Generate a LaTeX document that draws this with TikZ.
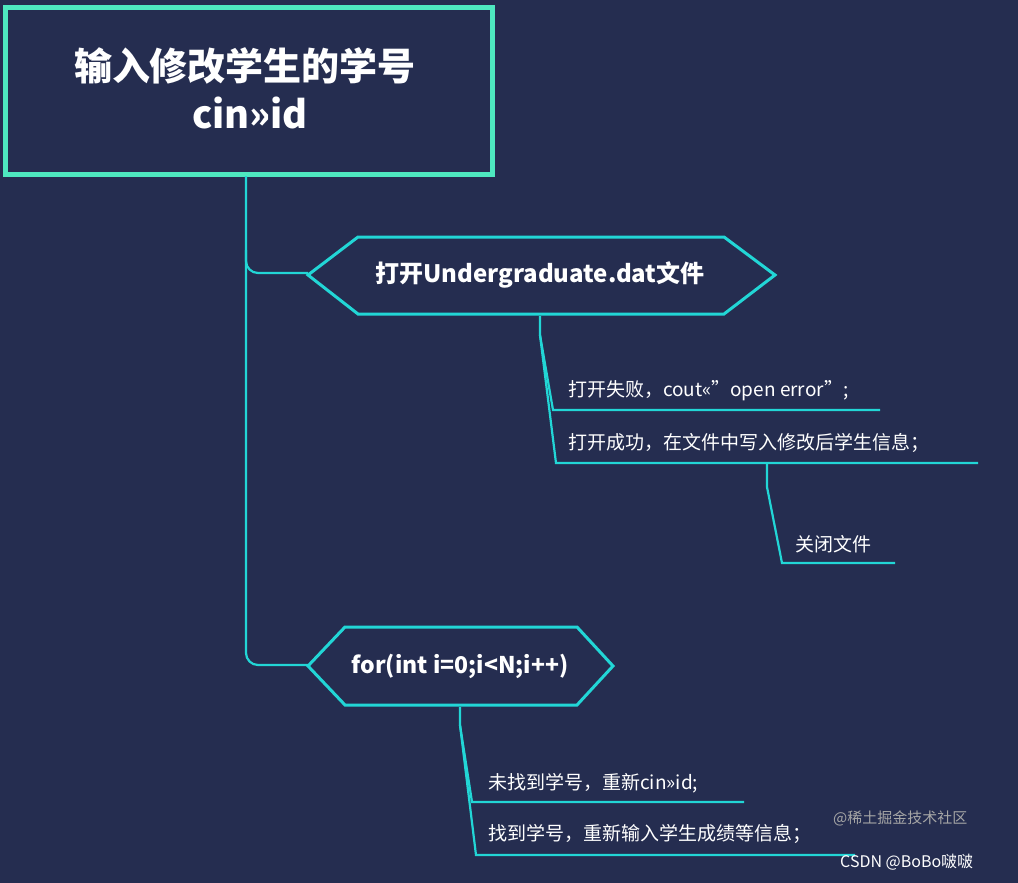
\documentclass[tikz,border=0pt]{standalone}
\usepackage{fontspec}
\setmainfont{Noto Sans CJK SC}
\newfontfamily\cjkb{Noto Sans CJK SC}[BoldFont={Noto Sans CJK SC Bold}]
\definecolor{bg}{RGB}{37,45,80}
\definecolor{mint}{RGB}{78,232,192}
\definecolor{cyanl}{RGB}{34,214,214}
\tikzset{
  con/.style={draw=cyanl,line width=2.2pt,rounded corners=12pt},
  hexa/.style={draw=cyanl,line width=3pt,fill=bg},
  lbl/.style={text=white,anchor=west,font=\fontsize{19}{22}\selectfont,inner sep=0},
  hlbl/.style={text=white,font=\bfseries\fontsize{24}{28}\selectfont,inner sep=0}
}
\begin{document}
\begin{tikzpicture}[x=1pt,y=-1pt]
\fill[bg] (0,0) rectangle (1018,883);
\useasboundingbox (0,0) rectangle (1018,883);
% title
\draw[mint,line width=5pt,fill=bg] (5,8) rectangle (492,174);
\node[text=white,font=\bfseries\fontsize{38}{50}\selectfont,align=center,inner sep=0] (title) at (245,88) {输入修改学生的学号\\[-2pt]\hspace*{10pt}cin>>id};
% trunk
\coordinate (t0) at (246,176);
\coordinate (h1) at (308,273);
\coordinate (h2) at (308,665);
\draw[con] (t0) -- (246,665) -- (h2);
\draw[con] (246,250) |- (h1);
% hexagon 1
\draw[hexa] (308,275) -- (358,237) -- (724,237) -- (775,275) -- (724,314) -- (358,314) -- cycle;
\node[hlbl] (n1) at (540,275) {打开Undergraduate.dat文件};
% hexagon 2
\draw[hexa] (308,666) -- (345,627) -- (577,627) -- (613,666) -- (577,705) -- (345,705) -- cycle;
\node[hlbl,font=\bfseries\fontsize{23}{28}\selectfont] (n2) at (460,666) {for(int i=0;i<N;i++)};
% branches of hexagon 1
\coordinate (b1) at (540,316);
\coordinate (e1) at (880,410);
\coordinate (e2) at (978,463);
\draw[cyanl,line width=2.2pt] (b1) -- (540,335) -- (553,410) -- (e1);
\draw[cyanl,line width=2.2pt] (540,335) -- (556,463) -- (e2);
\node[lbl] (l1) at (568,391) {打开失败，cout<<"open error";};
\node[lbl] (l2) at (568,443) {打开成功，在文件中写入修改后学生信息；};
\coordinate (b2) at (767,463);
\coordinate (e3) at (895,563);
\draw[cyanl,line width=2.2pt] (b2) -- (767,487) -- (782,563) -- (e3);
\node[lbl] (l3) at (795,544) {关闭文件};
% branches of hexagon 2
\coordinate (b3) at (460,707);
\coordinate (e4) at (744,802);
\coordinate (e5) at (855,855);
\draw[cyanl,line width=2.2pt] (b3) -- (460,725) -- (472,802) -- (e4);
\draw[cyanl,line width=2.2pt] (460,725) -- (476,855) -- (e5);
\node[lbl] (l4) at (488,783) {未找到学号，重新cin>>id;};
\node[lbl] (l5) at (488,834) {找到学号，重新输入学生成绩等信息；};
% watermark
\node[text=gray!70,anchor=west,font=\fontsize{15}{18}\selectfont,inner sep=0] (w1) at (833,818) {@稀土掘金技术社区};
\node[text=white!90,anchor=west,font=\fontsize{16}{18}\selectfont,inner sep=0] (w2) at (840,862) {CSDN @BoBo啵啵};
\end{tikzpicture}
\end{document}
